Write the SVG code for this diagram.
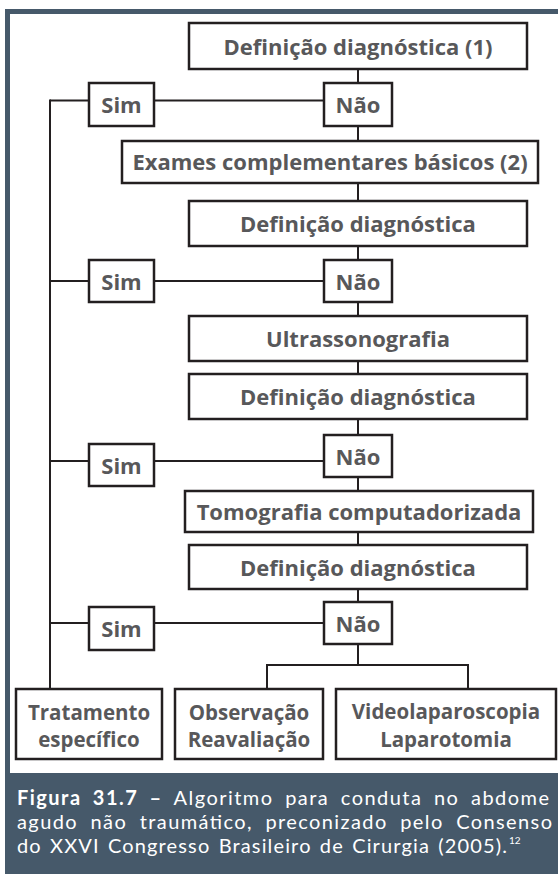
<svg xmlns="http://www.w3.org/2000/svg" width="558" height="877" viewBox="0 0 558 877">
  <style>
    .box { fill: #ffffff; stroke: #231f20; stroke-width: 2.5; }
    .lbl { font-family: "Open Sans", "Liberation Sans", sans-serif; font-weight: 700; font-size: 22px; fill: #58585a; text-anchor: middle; }
    .sm { font-size: 20.5px; }
    .wire { fill: none; stroke: #231f20; stroke-width: 2; }
    .cap { font-family: Lato, "Open Sans", sans-serif; font-size: 20px; fill: #ffffff; }
    .capb { font-weight: 700; }
  </style>

  <!-- page background and frame -->
  <rect x="0" y="0" width="558" height="877" fill="#ffffff"/>
  <g id="frame" fill="#46596a">
    <rect x="5" y="9" width="553" height="5"/>
    <rect x="5" y="9" width="5" height="865"/>
    <rect x="5" y="773" width="553" height="101"/>
  </g>

  <!-- connectors -->
  <g id="connectors" class="wire">
    <!-- main vertical spine -->
    <line x1="358" y1="69" x2="358" y2="83"/>
    <line x1="358" y1="126" x2="358" y2="141"/>
    <line x1="358" y1="183" x2="358" y2="201"/>
    <line x1="358" y1="246" x2="358" y2="260"/>
    <line x1="358" y1="302" x2="358" y2="316"/>
    <line x1="358" y1="361" x2="358" y2="374"/>
    <line x1="358" y1="419" x2="358" y2="435"/>
    <line x1="358" y1="477" x2="358" y2="491"/>
    <line x1="358" y1="532" x2="358" y2="545"/>
    <line x1="358" y1="589" x2="358" y2="602"/>
    <!-- split to final options -->
    <polyline points="358,644 358,665"/>
    <polyline points="267,689 267,665 468,665 468,689"/>
    <!-- Sim / Não branches -->
    <line x1="50" y1="100.5" x2="89" y2="100.5"/>
    <line x1="154" y1="100.5" x2="324" y2="100.5"/>
    <line x1="50" y1="281" x2="89" y2="281"/>
    <line x1="154" y1="281" x2="324" y2="281"/>
    <line x1="50" y1="461" x2="89" y2="461"/>
    <line x1="154" y1="461" x2="324" y2="461"/>
    <line x1="50" y1="623" x2="89" y2="623"/>
    <line x1="154" y1="623" x2="324" y2="623"/>
    <!-- left collector to treatment -->
    <line x1="50" y1="99.5" x2="50" y2="689"/>
  </g>

  <!-- nodes -->
  <g id="def1"><rect class="box" x="189" y="23" width="338" height="46"/><text class="lbl" x="358" y="54.5">Definição diagnóstica (1)</text></g>
  <g id="sim1"><rect class="box" x="89" y="83" width="65" height="43"/><text class="lbl" x="121.5" y="113">Sim</text></g>
  <g id="nao1"><rect class="box" x="324" y="83" width="68" height="43"/><text class="lbl" x="358" y="113">Não</text></g>
  <g id="exames"><rect class="box" x="122" y="141" width="416" height="42"/><text class="lbl" x="330" y="170">Exames complementares básicos (2)</text></g>
  <g id="def2"><rect class="box" x="189" y="201" width="338" height="45"/><text class="lbl" x="358" y="232">Definição diagnóstica</text></g>
  <g id="sim2"><rect class="box" x="89" y="260" width="65" height="42"/><text class="lbl" x="121.5" y="289.5">Sim</text></g>
  <g id="nao2"><rect class="box" x="324" y="260" width="68" height="42"/><text class="lbl" x="358" y="289.5">Não</text></g>
  <g id="ultra"><rect class="box" x="189" y="316" width="338" height="45"/><text class="lbl" x="358" y="347">Ultrassonografia</text></g>
  <g id="def3"><rect class="box" x="189" y="374" width="338" height="45"/><text class="lbl" x="358" y="405">Definição diagnóstica</text></g>
  <g id="sim3"><rect class="box" x="89" y="444" width="65" height="42"/><text class="lbl" x="121.5" y="473.5">Sim</text></g>
  <g id="nao3"><rect class="box" x="324" y="435" width="68" height="42"/><text class="lbl" x="358" y="464.5">Não</text></g>
  <g id="tomo"><rect class="box" x="185" y="491" width="348" height="41"/><text class="lbl" x="359" y="520">Tomografia computadorizada</text></g>
  <g id="def4"><rect class="box" x="189" y="545" width="338" height="44"/><text class="lbl" x="358" y="575.5">Definição diagnóstica</text></g>
  <g id="sim4"><rect class="box" x="89" y="607" width="65" height="43"/><text class="lbl" x="121.5" y="637">Sim</text></g>
  <g id="nao4"><rect class="box" x="324" y="602" width="68" height="42"/><text class="lbl" x="358" y="631.5">Não</text></g>
  <g id="tratamento"><rect class="box" x="16" y="689" width="146" height="70"/><text class="lbl sm" x="89" y="720">Tratamento</text><text class="lbl sm" x="89" y="747">específico</text></g>
  <g id="observacao"><rect class="box" x="175" y="689" width="148" height="70"/><text class="lbl sm" x="249" y="720">Observação</text><text class="lbl sm" x="249" y="747">Reavaliação</text></g>
  <g id="video"><rect class="box" x="336" y="689" width="220" height="70"/><text class="lbl sm" x="446" y="719">Videolaparoscopia</text><text class="lbl sm" x="446" y="747">Laparotomia</text></g>

  <!-- caption: justified lines (word spacing plus a small length fit) -->
  <g id="caption" class="cap">
    <text x="17" y="805" word-spacing="5" textLength="532"><tspan class="capb">Figura 31.7 –</tspan> Algoritmo para conduta no abdome</text>
    <text x="17" y="829" word-spacing="6" textLength="535">agudo não traumático, preconizado pelo Consenso</text>
    <text x="17" y="853" word-spacing="2" textLength="490">do XXVI Congresso Brasileiro de Cirurgia (2005).</text>
    <text x="509" y="844" font-size="10">12</text>
  </g>
</svg>
